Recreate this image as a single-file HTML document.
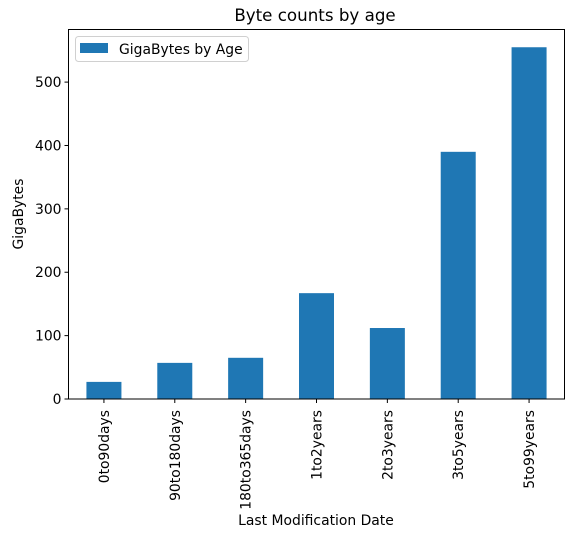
<!DOCTYPE html>
<html><head><meta charset="utf-8"><style>
body{margin:0;background:#fff;}
text{font-family:"DejaVu Sans","Liberation Sans",sans-serif;fill:#000;}
</style></head><body>
<svg id="chart" width="584" height="545" xmlns="http://www.w3.org/2000/svg">
<rect width="584" height="545" fill="#fff"/>
<text x="315" y="21" font-size="16.7" text-anchor="middle">Byte counts by age</text>
<text x="316" y="525" font-size="13.9" text-anchor="middle">Last Modification Date</text>
<text transform="translate(23,214) rotate(-90)" font-size="13.9" text-anchor="middle">GigaBytes</text>
<g id="bars"></g><g id="yticks"></g><g id="xticks"></g>
<rect x="68.5" y="29.5" width="496" height="369.5" fill="none" stroke="#000" stroke-width="1"/>
<g>
<rect x="75.5" y="36.5" width="173" height="25" rx="3" fill="#fff" stroke="#ccc" opacity="0.9"/>
<rect x="80" y="43" width="28" height="10" fill="#1f77b4"/>
<text x="119" y="54" font-size="13.9">GigaBytes by Age</text>
</g>
</svg>
<script>
const categories=["0to90days","90to180days","180to365days","1to2years","2to3years","3to5years","5to99years"];
const values=[27,57,65,167,112,390,555];
const yTicks=[0,100,200,300,400,500];
const ns="http://www.w3.org/2000/svg";
const L=68.5,R=564.5,B=399,T=29.5,yMax=583;
const y=v=>B-(B-T)*v/yMax;
const step=(R-L)/categories.length;
const x=i=>L+step*(i+0.5);
const bw=35;
const bars=document.getElementById('bars'),yt=document.getElementById('yticks'),xt=document.getElementById('xticks');
values.forEach((v,i)=>{
 const r=document.createElementNS(ns,'rect');
 r.setAttribute('x',x(i)-bw/2);r.setAttribute('y',y(v));r.setAttribute('width',bw);r.setAttribute('height',B-y(v));r.setAttribute('fill','#1f77b4');
 
 
 bars.appendChild(r);
 const l=document.createElementNS(ns,'line');
 l.setAttribute('x1',x(i));l.setAttribute('x2',x(i));l.setAttribute('y1',B);l.setAttribute('y2',B+4);l.setAttribute('stroke','#000');
 
 
 xt.appendChild(l);
 const t=document.createElementNS(ns,'text');
 t.setAttribute('transform',`translate(${x(i)+5},${B+11}) rotate(-90)`);t.setAttribute('text-anchor','end');t.setAttribute('font-size','13.9');
 t.textContent=categories[i];
 
 
 xt.appendChild(t);
});
yTicks.forEach(v=>{
 const l=document.createElementNS(ns,'line');
 l.setAttribute('x1',L-4);l.setAttribute('x2',L);l.setAttribute('y1',y(v));l.setAttribute('y2',y(v));l.setAttribute('stroke','#000');
 
 
 yt.appendChild(l);
 const t=document.createElementNS(ns,'text');
 t.setAttribute('x',L-7);t.setAttribute('y',y(v)+5);t.setAttribute('text-anchor','end');t.setAttribute('font-size','13.9');
 t.textContent=v;
 
 
 yt.appendChild(t);
});
</script>
</body></html>
